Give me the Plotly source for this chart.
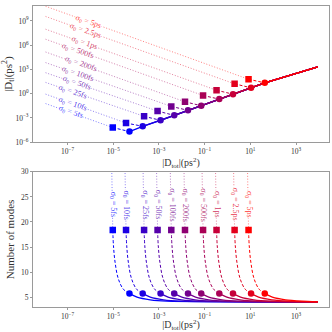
import plotly.graph_objects as go
from plotly.subplots import make_subplots

# pulse durations, one curve each (blue -> red)
SIGMA_LABELS = ["5fs", "10fs", "25fs", "50fs", "100fs", "200fs", "500fs", "1ps", "2.5ps", "5ps"]

# values below are log10 of |D| in ps^2
SQUARE_LOG_DTOT = [-5.02, -4.44, -3.65, -3.06, -2.46, -1.86, -1.07, -0.48, 0.31, 0.92]
SQUARE_LOG_DT = [-4.19, -3.63, -2.80, -2.15, -1.57, -1.00, -0.22, 0.43, 1.22, 1.79]
CIRCLE_LOG_DTOT = [-4.29, -3.71, -2.93, -2.33, -1.73, -1.15, -0.36, 0.24, 1.03, 1.63]
CIRCLE_LOG_DT = [-4.68, -4.03, -3.29, -2.68, -2.06, -1.49, -0.67, -0.06, 0.73, 1.34]
DOTTED_START_LOG_DTOT = -7.96
DOTTED_START_LOG_DT = [-1.22, -0.05, 1.40, 2.60, 3.85, 5.16, 6.74, 7.98, 9.56, 10.82]
END_LOG_DTOT = 3.95
END_LOG_DT = 3.33
LABEL_LOG_DTOT = [-6.87, -6.78, -6.78, -6.61, -6.56, -6.43, -6.56, -6.26, -6.21, -6.08]

# number of modes (bottom panel)
MODES_DOT = [32.0, 18.4]
MODES_DASH = [18.4, 15.3, 12.0, 8.7, 6.6, 5.7]
MODES_TAIL = [5.7, 5.0, 4.47, 4.21, 4.07]
MODES_LABEL = 23.5
DOT_TOP_LOG_DTOT = [-5.07, -4.49, -3.70, -3.11, -2.51, -1.91, -1.12, -0.53, 0.26, 0.87]
DASH_LOG_DTOT = [
    [-5.02, -4.99, -4.92, -4.78, -4.56, -4.29],
    [-4.44, -4.41, -4.34, -4.20, -3.98, -3.71],
    [-3.65, -3.62, -3.55, -3.41, -3.19, -2.93],
    [-3.06, -3.03, -2.96, -2.82, -2.60, -2.33],
    [-2.46, -2.43, -2.36, -2.22, -2.00, -1.73],
    [-1.86, -1.83, -1.76, -1.62, -1.40, -1.15],
    [-1.07, -1.04, -0.97, -0.83, -0.61, -0.36],
    [-0.48, -0.45, -0.38, -0.24, -0.02, 0.24],
    [0.31, 0.34, 0.41, 0.55, 0.77, 1.03],
    [0.92, 0.95, 1.02, 1.16, 1.38, 1.63],
]
TAIL_LOG_DTOT = [
    [-4.29, -3.96, -3.38, -2.65, 3.95],
    [-3.71, -3.38, -2.80, -2.07, 3.95],
    [-2.93, -2.60, -2.02, -1.29, 3.95],
    [-2.33, -2.00, -1.42, -0.69, 3.95],
    [-1.73, -1.40, -0.82, -0.09, 3.95],
    [-1.15, -0.82, -0.24, 0.49, 3.95],
    [-0.36, -0.03, 0.55, 1.28, 3.95],
    [0.24, 0.57, 1.15, 1.88, 3.95],
    [1.03, 1.36, 1.94, 2.67, 3.95],
    [1.63, 1.96, 2.54, 3.27, 3.95],
]

X_TICK_EXP = [-7, -5, -3, -1, 1, 3]
Y_TICK_EXP = [-6, -3, 0, 3, 6, 9]

FONT = "Liberation Serif"
AXIS_GREY = "#9a9a9a"
DOT = "1px,1.8px"
DASH = "3px,2px"


def p10(vals):
    return [10 ** v for v in vals]


def sup(e):
    return "10<sup>" + str(e).replace("-", "\u2212") + "</sup>"


def rgba(i, a=1.0):
    t = i / (len(SIGMA_LABELS) - 1)
    return f"rgba({round(255 * t)},0,{round(255 * (1 - t))},{a})"


fig = make_subplots(rows=2, cols=1)

n = len(SIGMA_LABELS)
for i in range(n):
    col = rgba(i)
    faint = rgba(i, 0.5)

    # top panel: |D_t| vs |D_tot|
    fig.add_trace(go.Scatter(
        x=p10([DOTTED_START_LOG_DTOT, SQUARE_LOG_DTOT[i]]),
        y=p10([DOTTED_START_LOG_DT[i], SQUARE_LOG_DT[i]]),
        mode="lines", line=dict(color=faint, width=1, dash=DOT),
    ), row=1, col=1)
    fig.add_trace(go.Scatter(
        x=p10([SQUARE_LOG_DTOT[i], CIRCLE_LOG_DTOT[i]]),
        y=p10([SQUARE_LOG_DT[i], CIRCLE_LOG_DT[i]]),
        mode="lines", line=dict(color=col, width=1, dash=DASH),
    ), row=1, col=1)
    fig.add_trace(go.Scatter(
        x=p10(CIRCLE_LOG_DTOT[i:] + [END_LOG_DTOT]),
        y=p10(CIRCLE_LOG_DT[i:] + [END_LOG_DT]),
        mode="lines", line=dict(color=col, width=1.3),
    ), row=1, col=1)
    fig.add_trace(go.Scatter(
        x=p10([SQUARE_LOG_DTOT[i]]), y=p10([SQUARE_LOG_DT[i]]),
        mode="markers", marker=dict(symbol="square", size=6.5, color=col),
    ), row=1, col=1)
    fig.add_trace(go.Scatter(
        x=p10([CIRCLE_LOG_DTOT[i]]), y=p10([CIRCLE_LOG_DT[i]]),
        mode="markers", marker=dict(symbol="circle", size=6.5, color=col),
    ), row=1, col=1)

    # bottom panel: number of modes
    fig.add_trace(go.Scatter(
        x=p10([DOT_TOP_LOG_DTOT[i], SQUARE_LOG_DTOT[i]]), y=MODES_DOT,
        mode="lines", line=dict(color=faint, width=1, dash=DOT),
    ), row=2, col=1)
    fig.add_trace(go.Scatter(
        x=p10(DASH_LOG_DTOT[i]), y=MODES_DASH,
        mode="lines", line=dict(color=col, width=1, dash=DASH, shape="spline"),
    ), row=2, col=1)
    fig.add_trace(go.Scatter(
        x=p10(TAIL_LOG_DTOT[i]), y=MODES_TAIL,
        mode="lines", line=dict(color=col, width=1.2, shape="spline", smoothing=0.6),
    ), row=2, col=1)
    fig.add_trace(go.Scatter(
        x=p10([SQUARE_LOG_DTOT[i]]), y=[MODES_DASH[0]],
        mode="markers", marker=dict(symbol="square", size=6.5, color=col),
    ), row=2, col=1)
    fig.add_trace(go.Scatter(
        x=p10([CIRCLE_LOG_DTOT[i]]), y=[MODES_TAIL[0]],
        mode="markers", marker=dict(symbol="circle", size=6.5, color=col),
    ), row=2, col=1)

    # labels sitting on the dotted lines
    lx = LABEL_LOG_DTOT[i]
    frac = (lx - DOTTED_START_LOG_DTOT) / (SQUARE_LOG_DTOT[i] - DOTTED_START_LOG_DTOT)
    ly = DOTTED_START_LOG_DT[i] + frac * (SQUARE_LOG_DT[i] - DOTTED_START_LOG_DT[i])
    text = "\u03c3<sub>0</sub> = " + SIGMA_LABELS[i]
    fig.add_annotation(
        x=lx, y=ly, xref="x", yref="y", text=text, showarrow=False,
        textangle=19, bgcolor="white", borderpad=0,
        font=dict(family=FONT, size=8, color=rgba(i, 0.8)),
    )
    fig.add_annotation(
        x=SQUARE_LOG_DTOT[i], y=MODES_LABEL, xref="x2", yref="y2", text=text,
        showarrow=False, textangle=90, bgcolor="white", borderpad=0,
        font=dict(family=FONT, size=8, color=rgba(i, 0.8)),
    )

axis_style = dict(
    showline=True, linecolor=AXIS_GREY, linewidth=1, mirror=True,
    showgrid=False, zeroline=False, ticks="outside", ticklen=2,
    tickcolor=AXIS_GREY, tickfont=dict(family=FONT, size=7.5, color="#333"),
)
xtitle = "|D<sub>tot</sub>|(ps<sup>2</sup>)"

fig.update_xaxes(
    type="log", range=[-8.51, 4.44],
    tickvals=p10(X_TICK_EXP), ticktext=[sup(e) for e in X_TICK_EXP],
    title=dict(text=xtitle, font=dict(family=FONT, size=10, color="#333"), standoff=1),
    **axis_style,
)
fig.update_yaxes(
    type="log", range=[-6, 10.85],
    tickvals=p10(Y_TICK_EXP), ticktext=[sup(e) for e in Y_TICK_EXP],
    title=dict(text="|D<sub>t</sub>|(ps<sup>2</sup>)", font=dict(family=FONT, size=11, color="#333"), standoff=3),
    domain=[0.5475, 1.0], row=1, col=1, **axis_style,
)
fig.update_yaxes(
    range=[3.03, 30], tickvals=[5, 10, 15, 20, 25, 30],
    title=dict(text="Number of modes", font=dict(family=FONT, size=11, color="#333"), standoff=4),
    domain=[0.0, 0.449], row=2, col=1, **axis_style,
)

fig.update_layout(
    width=332, height=332,
    margin=dict(l=33, r=3, t=2, b=25),
    plot_bgcolor="white", paper_bgcolor="white",
    showlegend=False,
    font=dict(family=FONT),
)

fig.write_html(
    "out.html",
    config={"displayModeBar": False},
    post_script="document.body.style.margin='0';",
)
